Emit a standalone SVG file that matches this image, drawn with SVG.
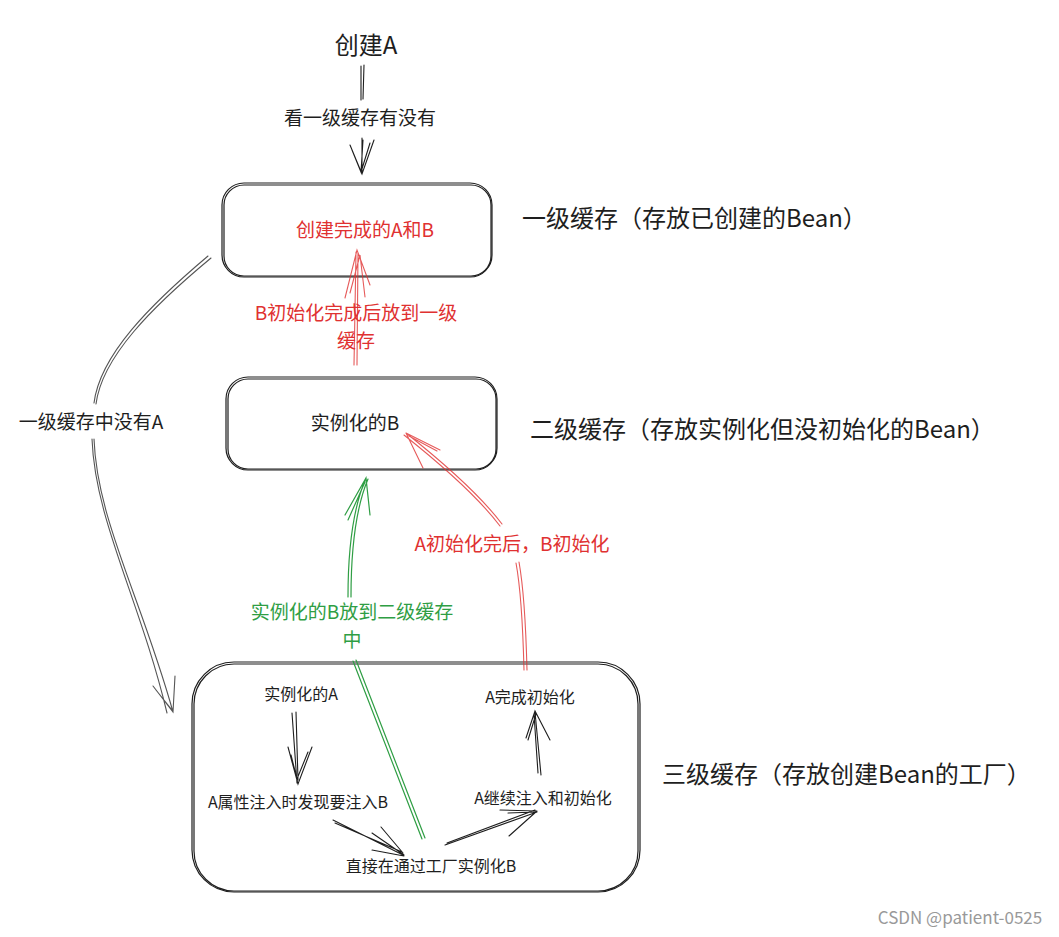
<svg xmlns="http://www.w3.org/2000/svg" width="1059" height="937" viewBox="0 0 1059 937">
<style>
text{font-family:"Noto Sans CJK SC","Noto Sans",sans-serif;text-anchor:middle;fill:#1e1e1e}
.r{fill:#e03131}.g{fill:#2f9e44}
.box{fill:none;stroke:#1e1e1e;stroke-width:1.2}
.k{fill:none;stroke:#1e1e1e;stroke-width:1.1;stroke-linecap:round}
.kg{fill:none;stroke:#555;stroke-width:1.1;stroke-linecap:round}
.rd{fill:none;stroke:#e03131;stroke-width:1.1;stroke-linecap:round;opacity:.8}
.gr{fill:none;stroke:#2f9e44;stroke-width:1.2;stroke-linecap:round}
.big{font-size:24px;text-anchor:start}
.m{font-size:19px}.s{font-size:16px}
</style>
<rect width="1059" height="937" fill="#fff"/>
<g id="start"><text x="366" y="54" font-size="24">创建A</text></g>
<g id="l1">
<rect class="box" x="222" y="183" width="270" height="94" rx="22"/>
<rect class="box" x="224" y="185" width="267" height="91" rx="20"/>
<text class="r m" x="365" y="237">创建完成的A和B</text>
</g>
<g id="l2">
<rect class="box" x="226" y="377" width="271" height="93" rx="22"/>
<rect class="box" x="228" y="379" width="268" height="90" rx="20"/>
<text class="m" x="355" y="430">实例化的B</text>
</g>
<g id="l3">
<rect class="box" x="192" y="662" width="448" height="230" rx="42"/>
<rect class="box" x="194" y="664" width="444" height="227" rx="40"/>
<text class="s" x="301" y="700">实例化的A</text>
<text class="s" x="298" y="808">A属性注入时发现要注入B</text>
<text class="s" x="431" y="872">直接在通过工厂实例化B</text>
<text class="s" x="543" y="804">A继续注入和初始化</text>
<text class="s" x="530" y="703">A完成初始化</text>
</g>
<g id="labels">
<text class="big" x="522" y="227">一级缓存（存放已创建的Bean）</text>
<text class="big" x="530" y="438">二级缓存（存放实例化但没初始化的Bean）</text>
<text class="big" x="662" y="783">三级缓存（存放创建Bean的工厂）</text>
<text x="960" y="924" font-size="17" style="fill:#999">CSDN @patient-0525</text>
</g>
<g id="connectors">
<path class="k" d="M361 66 L361 100 M364 65 L363 99"/>
<text class="m" x="360" y="125">看一级缓存有没有</text>
<path class="k" d="M362 138 L362 174 M363 140 L361 172 M350 145 L362 174 L374 140 M352 150 L361 172 L370 143"/>
<path class="kg" d="M208 256 C150 305 100 355 94 403 M211 258 C152 307 102 357 96 404"/>
<text class="m" x="91" y="429">一级缓存中没有A</text>
<path class="kg" d="M92 439 C95 520 140 600 167 713 M94 439 C97 520 142 600 173 712 M153 686 L173 712 L175 676 M156 690 L172 710"/>
<path class="rd" d="M354 365 L356 252 M357 365 L358 253 M345 298 L357 250 L370 285 M350 293 L360 255 L365 297"/>
<text class="r m" x="356" y="320">B初始化完成后放到一级</text>
<text class="r m" x="356" y="348">缓存</text>
<path class="rd" d="M527 670 C526 630 524 590 519 562 M524 670 C523 630 521 590 516 563"/>
<text class="r m" x="512" y="551">A初始化完后，B初始化</text>
<path class="rd" d="M502 524 C480 495 440 460 406 433 M500 526 C478 497 438 462 404 435 M406 433 L440 450 M406 433 L423 468 M409 436 L437 451"/>
<path class="gr" d="M425 838 L356 660 M422 839 L353 661"/>
<text class="g m" x="352" y="619">实例化的B放到二级缓存</text>
<text class="g m" x="352" y="647">中</text>
<path class="gr" d="M348 597 C348 550 352 510 366 478 M351 597 C351 550 355 510 368 479 M345 515 L366 478 L370 515 M348 520 L365 482"/>
<path class="k" d="M292 713 L297 783 M296 712 L298 780 M288 747 L298 784 L312 747 M291 755 L297 779 L308 752"/>
<path class="k" d="M333 820 L403 855 M335 823 L402 852 M372 833 L404 855 M381 827 L403 853 M372 850 L404 856"/>
<path class="k" d="M445 845 L537 812 M447 843 L535 810 M500 810 L537 811 M508 813 L536 812 M509 836 L537 811"/>
<path class="k" d="M541 775 L535 712 M538 773 L534 714 M526 738 L535 711 L550 740 M528 740 L536 714"/>
</g>
</svg>
